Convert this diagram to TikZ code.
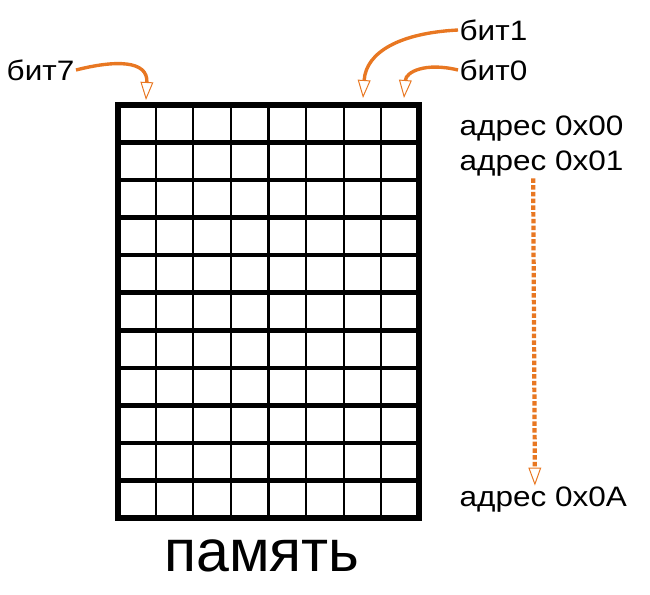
\documentclass[tikz,border=0pt]{standalone}
\usepackage{fontspec}
\setmainfont{Liberation Sans}
\newfontfamily\widesans[FakeStretch=1.12]{Liberation Sans}
\usetikzlibrary{arrows.meta}
\definecolor{bitorange}{RGB}{232,119,34}
\tikzset{
  cell-line/.style={black, line width=1.5pt},
  row-line/.style={black, line width=3.2pt},
  frame-line/.style={black, line width=4.4pt, line join=miter},
  label-text/.style={font=\widesans\fontsize{20}{24}\selectfont, inner sep=1pt},
  bit-arrow/.style={
    bitorange,
    line width=2.4pt,
    -{Triangle[open, length=0.45cm, width=0.32cm, line width=0.7pt]}
  },
  addr-arrow/.style={bit-arrow, line width=3pt, dash pattern=on 3.2pt off 1.6pt}
}

\begin{document}
\begin{tikzpicture}[x=0.025cm, y=-0.025cm]
  \useasboundingbox (0,0) rectangle (650,594);

  % memory: 8 bits x 11 addresses
  \foreach \c in {1,...,7}
    \draw[cell-line] (118+\c*37.625, 105) -- (118+\c*37.625, 518);
  \foreach \r in {1,...,10}
    \draw[row-line] (118, 105+\r*37.545) -- (419, 105+\r*37.545);
  \draw[frame-line] (118,105) rectangle (419,518);

  \coordinate (bit7) at (146,100);
  \coordinate (bit1) at (363,98);
  \coordinate (bit0) at (404,98);

  \node[label-text, anchor=east] (b7) at (76,70) {бит7};
  \node[label-text, anchor=west] (b1) at (458,30) {бит1};
  \node[label-text, anchor=west] (b0) at (458,70) {бит0};
  \node[label-text, anchor=west] (a00) at (458,129) {адрес 0x00};
  \node[label-text, anchor=west] (a01) at (458,164) {адрес 0x01};
  \node[label-text, anchor=west] (a0A) at (458,500) {адрес 0x0A};
  \node[font=\fontsize{42}{48}\selectfont] (mem) at (262,556) {память};

  \draw[bit-arrow] (b7.east) .. controls (115,60) and (148,60) .. (bit7);
  \draw[bit-arrow] (b1.west) .. controls (400,33) and (366,52) .. (bit1);
  \draw[bit-arrow] (b0.west) .. controls (425,62) and (406,72) .. (bit0);
  \draw[addr-arrow] ([xshift=-0.21cm]a01.south) -- ([xshift=-0.21cm]a0A.north);
\end{tikzpicture}
\end{document}
